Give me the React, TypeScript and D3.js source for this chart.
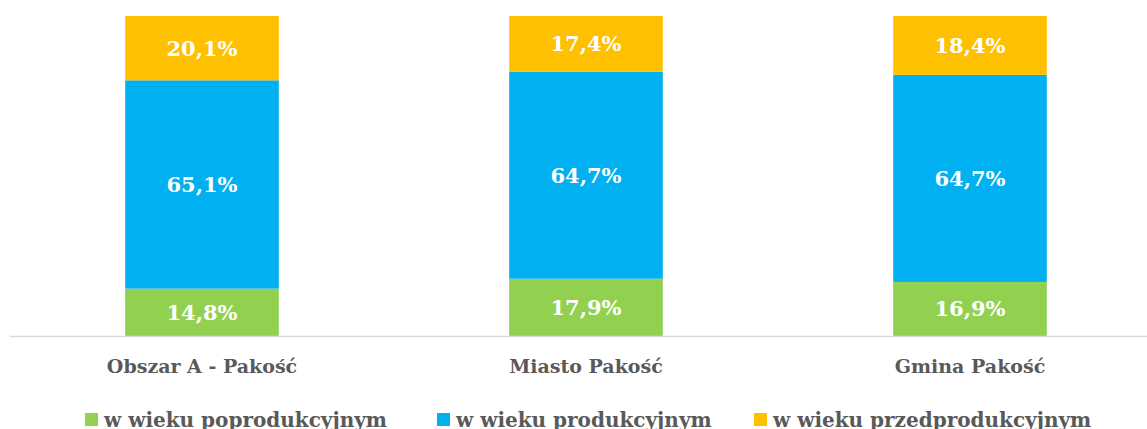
import React from "react";
import * as d3 from "d3";

const categories = ["Obszar A - Pakość", "Miasto Pakość", "Gmina Pakość"];
const seriesNames = ["w wieku poprodukcyjnym", "w wieku produkcyjnym", "w wieku przedprodukcyjnym"];
const poprodukcyjny = [14.8, 17.9, 16.9];
const produkcyjny = [65.1, 64.7, 64.7];
const przedprodukcyjny = [20.1, 17.4, 18.4];
const colors = ["#92D050", "#00B0F0", "#FFC000"];

const W = 1147;
const H = 429;
const FONT = "'DejaVu Serif', serif";
const TEXT = "#595959";

export default function App() {
  const series = [poprodukcyjny, produkcyjny, przedprodukcyjny];
  const x = d3.scaleBand<string>().domain(categories).range([10, 1162]).paddingInner(0.6).paddingOuter(0.3);
  const y = d3.scaleLinear().domain([0, 100]).range([336, 16]);
  const rows = categories.map((c, i) => {
    const obj: any = { cat: c };
    seriesNames.forEach((s, j) => (obj[s] = series[j][i]));
    return obj;
  });
  const stacked = d3.stack<any>().keys(seriesNames)(rows);
  const legendX = [85, 437, 754];
  return (
    <svg width={W} height={H} style={{ position: "absolute", left: 0, top: 0, display: "block" }}>
      <rect x={0} y={0} width={W} height={H} fill="#fff" />
      {stacked.map((layer, j) =>
        layer.map((d, i) => {
          const x0 = x(categories[i])!;
          const y0 = y(d[1]);
          const h = y(d[0]) - y(d[1]);
          return (
            <g key={`${j}-${i}`}>
              <rect x={x0} y={y0} width={x.bandwidth()} height={h} fill={colors[j]} />
              <text
                x={x0 + x.bandwidth() / 2}
                y={y0 + h / 2}
                dy="0.35em"
                textAnchor="middle"
                fill="#fff"
                fontFamily={FONT}
                fontWeight="bold"
                fontSize={21}
              >
                {series[j][i].toFixed(1).replace(".", ",")}%
              </text>
            </g>
          );
        })
      )}
      <line x1={10} x2={W} y1={336.5} y2={336.5} stroke="#D9D9D9" strokeWidth={1.5} />
      {categories.map((c) => (
        <text
          key={c}
          x={x(c)! + x.bandwidth() / 2}
          y={373}
          textAnchor="middle"
          fill={TEXT}
          fontFamily={FONT}
          fontWeight="bold"
          fontSize={19}
        >
          {c}
        </text>
      ))}
      {seriesNames.map((s, j) => (
        <g key={s}>
          <rect x={legendX[j]} y={413} width={13} height={13} fill={colors[j]} />
          <text x={legendX[j] + 19} y={427} fill={TEXT} fontFamily={FONT} fontWeight="bold" fontSize={20}>
            {s}
          </text>
        </g>
      ))}
    </svg>
  );
}
